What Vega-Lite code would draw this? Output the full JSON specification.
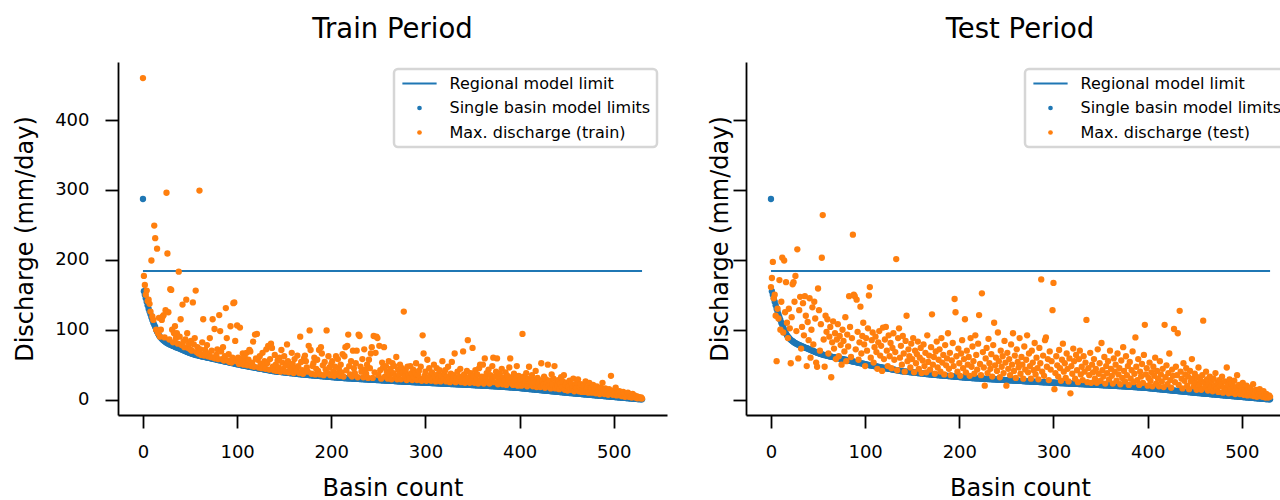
{
"$schema": "https://vega.github.io/schema/vega-lite/v6.json",
"background": "white",
"padding": {"left": 13, "top": 16, "right": 0, "bottom": 0},
"autosize": {"type": "pad"},
"datasets": {"basins": [
{"i":0,"b":287,"r":460,"t":161},{"i":1,"b":155,"r":177,"t":174},{"i":2,"b":150,"r":164,"t":197},{"i":3,"b":145,"r":150,"t":145},{"i":4,"b":140,"r":156,"t":150},{"i":5,"b":135,"r":141,"t":120},{"i":6,"b":130,"r":143,"t":55},{"i":7,"b":126,"r":137,"t":130},{"i":8,"b":122,"r":126,"t":116},{"i":9,"b":118,"r":199,"t":171},
{"i":10,"b":114,"r":119,"t":100},{"i":11,"b":110,"r":114,"t":140},{"i":12,"b":107,"r":249,"t":203},{"i":13,"b":104,"r":231,"t":96},{"i":14,"b":100,"r":100,"t":199},{"i":15,"b":97,"r":216,"t":125},{"i":16,"b":94.5,"r":95,"t":168},{"i":17,"b":92,"r":117,"t":110},{"i":18,"b":90,"r":90,"t":88},{"i":19,"b":88.5,"r":100,"t":130},
{"i":20,"b":87,"r":114,"t":102},{"i":21,"b":85.5,"r":119,"t":52},{"i":22,"b":84.5,"r":121,"t":118},{"i":23,"b":83.5,"r":89,"t":165},{"i":24,"b":82.5,"r":128,"t":168},{"i":25,"b":81.5,"r":296,"t":140},{"i":26,"b":80.7,"r":209,"t":177},{"i":27,"b":80,"r":125,"t":98},{"i":28,"b":79.3,"r":86,"t":215},{"i":29,"b":78.6,"r":158,"t":59},
{"i":30,"b":78,"r":157,"t":128},{"i":31,"b":77.4,"r":100,"t":147},{"i":32,"b":76.8,"r":82,"t":73},{"i":33,"b":76.2,"r":95,"t":104},{"i":34,"b":75.6,"r":105,"t":138},{"i":35,"b":75,"r":88,"t":92},{"i":36,"b":74.5,"r":95,"t":148},{"i":37,"b":74,"r":80,"t":120},{"i":38,"b":73.5,"r":183,"t":48},{"i":39,"b":73,"r":90,"t":111},
{"i":40,"b":72.4,"r":115,"t":85},{"i":41,"b":71.8,"r":78,"t":145},{"i":42,"b":71.2,"r":136,"t":60},{"i":43,"b":70.6,"r":83,"t":100},{"i":44,"b":70,"r":75,"t":132},{"i":45,"b":69.4,"r":86,"t":79},{"i":46,"b":68.8,"r":143,"t":140},{"i":47,"b":68.2,"r":95,"t":116},{"i":48,"b":67.7,"r":74,"t":53},{"i":49,"b":67.2,"r":80,"t":47},
{"i":50,"b":66.7,"r":72,"t":159},{"i":51,"b":66.2,"r":84,"t":128},{"i":52,"b":65.7,"r":70,"t":70},{"i":53,"b":65.2,"r":139,"t":108},{"i":54,"b":64.8,"r":79,"t":203},{"i":55,"b":64.4,"r":88,"t":264},{"i":56,"b":64,"r":156,"t":86},{"i":57,"b":63.6,"r":68,"t":47},{"i":58,"b":63.3,"r":75,"t":120},{"i":59,"b":63,"r":66,"t":97},
{"i":60,"b":62.7,"r":299,"t":115},{"i":61,"b":62.4,"r":72,"t":66},{"i":62,"b":62.1,"r":64,"t":90},{"i":63,"b":61.8,"r":82,"t":104},{"i":64,"b":61.5,"r":115,"t":32},{"i":65,"b":61.2,"r":63,"t":82},{"i":66,"b":60.9,"r":71,"t":112},{"i":67,"b":60.6,"r":67,"t":73},{"i":68,"b":60.3,"r":78,"t":95},{"i":69,"b":60,"r":62,"t":58},
{"i":70,"b":59.7,"r":66,"t":86},{"i":71,"b":59.4,"r":88,"t":108},{"i":72,"b":59.1,"r":61,"t":62},{"i":73,"b":58.8,"r":70,"t":91},{"i":74,"b":58.5,"r":115,"t":78},{"i":75,"b":58.2,"r":60,"t":50},{"i":76,"b":57.9,"r":101,"t":100},{"i":77,"b":57.6,"r":59,"t":84},{"i":78,"b":57.3,"r":64,"t":69},{"i":79,"b":57,"r":72,"t":118},
{"i":80,"b":56.7,"r":58,"t":55},{"i":81,"b":56.4,"r":121,"t":93},{"i":82,"b":56.1,"r":98,"t":76},{"i":83,"b":55.8,"r":69,"t":148},{"i":84,"b":55.5,"r":58,"t":104},{"i":85,"b":55.2,"r":75,"t":61},{"i":86,"b":54.9,"r":56,"t":88},{"i":87,"b":54.6,"r":62,"t":236},{"i":88,"b":54.3,"r":131,"t":150},{"i":89,"b":54,"r":88,"t":148},
{"i":90,"b":53.7,"r":56,"t":72},{"i":91,"b":53.4,"r":65,"t":143},{"i":92,"b":53.1,"r":54,"t":97},{"i":93,"b":52.8,"r":105,"t":57},{"i":94,"b":52.5,"r":53,"t":82},{"i":95,"b":52.2,"r":60,"t":133},{"i":96,"b":51.9,"r":138,"t":66},{"i":97,"b":51.6,"r":139,"t":91},{"i":98,"b":51.3,"r":84,"t":110},{"i":99,"b":51,"r":55,"t":79},
{"i":100,"b":50.7,"r":106,"t":48},{"i":101,"b":50.4,"r":60,"t":88},{"i":102,"b":50.1,"r":51,"t":70},{"i":103,"b":49.8,"r":103,"t":102},{"i":104,"b":49.5,"r":58,"t":149},{"i":105,"b":49.2,"r":52,"t":161},{"i":106,"b":48.9,"r":66,"t":60},{"i":107,"b":48.7,"r":50,"t":85},{"i":108,"b":48.4,"r":62,"t":96},{"i":109,"b":48.2,"r":54,"t":53},
{"i":110,"b":47.9,"r":67,"t":75},{"i":111,"b":47.7,"r":49,"t":90},{"i":112,"b":47.4,"r":57,"t":68},{"i":113,"b":47.2,"r":71,"t":44},{"i":114,"b":46.9,"r":69,"t":82},{"i":115,"b":46.7,"r":48,"t":98},{"i":116,"b":46.4,"r":53,"t":63},{"i":117,"b":46.2,"r":83,"t":77},{"i":118,"b":45.9,"r":47,"t":41},{"i":119,"b":45.7,"r":93,"t":103},
{"i":120,"b":45.4,"r":59,"t":58},{"i":121,"b":45.2,"r":94,"t":86},{"i":122,"b":44.9,"r":57,"t":104},{"i":123,"b":44.7,"r":46,"t":70},{"i":124,"b":44.4,"r":62,"t":48},{"i":125,"b":44.2,"r":51,"t":92},{"i":126,"b":43.9,"r":45,"t":62},{"i":127,"b":43.7,"r":67,"t":81},{"i":128,"b":43.4,"r":48,"t":45},{"i":129,"b":43.2,"r":55,"t":74},
{"i":130,"b":42.9,"r":44,"t":95},{"i":131,"b":42.7,"r":72,"t":57},{"i":132,"b":42.4,"r":52,"t":68},{"i":133,"b":42.2,"r":77,"t":201},{"i":134,"b":41.9,"r":43,"t":42},{"i":135,"b":41.7,"r":58,"t":88},{"i":136,"b":41.4,"r":80,"t":102},{"i":137,"b":41.2,"r":74,"t":60},{"i":138,"b":40.9,"r":47,"t":77},{"i":139,"b":40.7,"r":42,"t":50},
{"i":140,"b":40.5,"r":64,"t":91},{"i":141,"b":40.3,"r":50,"t":66},{"i":142,"b":40.1,"r":41,"t":40},{"i":143,"b":40,"r":56,"t":84},{"i":144,"b":39.9,"r":46,"t":120},{"i":145,"b":39.7,"r":60,"t":55},{"i":146,"b":39.6,"r":40,"t":72},{"i":147,"b":39.4,"r":71,"t":62},{"i":148,"b":39.3,"r":53,"t":46},{"i":149,"b":39.1,"r":44,"t":80},
{"i":150,"b":39,"r":62,"t":58},{"i":151,"b":38.8,"r":40,"t":88},{"i":152,"b":38.7,"r":49,"t":39},{"i":153,"b":38.5,"r":79,"t":70},{"i":154,"b":38.4,"r":55,"t":52},{"i":155,"b":38.2,"r":39,"t":65},{"i":156,"b":38.1,"r":47,"t":83},{"i":157,"b":37.9,"r":43,"t":44},{"i":158,"b":37.8,"r":67,"t":60},{"i":159,"b":37.6,"r":51,"t":74},
{"i":160,"b":37.5,"r":38,"t":38},{"i":161,"b":37.3,"r":58,"t":56},{"i":162,"b":37.2,"r":45,"t":79},{"i":163,"b":37,"r":41,"t":48},{"i":164,"b":36.9,"r":63,"t":67},{"i":165,"b":36.7,"r":48,"t":39},{"i":166,"b":36.6,"r":38,"t":92},{"i":167,"b":36.4,"r":90,"t":54},{"i":168,"b":36.3,"r":54,"t":63},{"i":169,"b":36.1,"r":42,"t":43},
{"i":170,"b":36,"r":37,"t":75},{"i":171,"b":35.8,"r":59,"t":122},{"i":172,"b":35.7,"r":63,"t":50},{"i":173,"b":35.5,"r":55,"t":61},{"i":174,"b":35.4,"r":46,"t":37},{"i":175,"b":35.3,"r":40,"t":69},{"i":176,"b":35.2,"r":77,"t":83},{"i":177,"b":35.1,"r":99,"t":46},{"i":178,"b":35,"r":71,"t":57},{"i":179,"b":34.9,"r":37,"t":72},
{"i":180,"b":34.8,"r":48,"t":40},{"i":181,"b":34.6,"r":52,"t":88},{"i":182,"b":34.5,"r":60,"t":53},{"i":183,"b":34.4,"r":36,"t":64},{"i":184,"b":34.3,"r":44,"t":36},{"i":185,"b":34.2,"r":57,"t":78},{"i":186,"b":34,"r":41,"t":49},{"i":187,"b":33.9,"r":71,"t":59},{"i":188,"b":33.8,"r":36,"t":95},{"i":189,"b":33.7,"r":75,"t":44},
{"i":190,"b":33.6,"r":66,"t":67},{"i":191,"b":33.4,"r":49,"t":35},{"i":192,"b":33.3,"r":35,"t":56},{"i":193,"b":33.2,"r":54,"t":81},{"i":194,"b":33.1,"r":43,"t":48},{"i":195,"b":33,"r":99,"t":144},{"i":196,"b":32.8,"r":38,"t":125},{"i":197,"b":32.7,"r":62,"t":62},{"i":198,"b":32.6,"r":46,"t":40},{"i":199,"b":32.5,"r":35,"t":73},
{"i":200,"b":32.4,"r":51,"t":52},{"i":201,"b":32.2,"r":55,"t":34},{"i":202,"b":32.1,"r":40,"t":66},{"i":203,"b":32,"r":34,"t":85},{"i":204,"b":31.9,"r":47,"t":45},{"i":205,"b":31.8,"r":62,"t":58},{"i":206,"b":31.6,"r":37,"t":115},{"i":207,"b":31.5,"r":58,"t":39},{"i":208,"b":31.4,"r":44,"t":70},{"i":209,"b":31.3,"r":34,"t":50},
{"i":210,"b":31.2,"r":50,"t":61},{"i":211,"b":31.1,"r":39,"t":34},{"i":212,"b":31,"r":65,"t":88},{"i":213,"b":30.9,"r":33,"t":47},{"i":214,"b":30.8,"r":62,"t":76},{"i":215,"b":30.7,"r":75,"t":55},{"i":216,"b":30.7,"r":42,"t":37},{"i":217,"b":30.6,"r":77,"t":92},{"i":218,"b":30.5,"r":93,"t":64},{"i":219,"b":30.4,"r":48,"t":43},
{"i":220,"b":30.3,"r":36,"t":80},{"i":221,"b":30.3,"r":55,"t":121},{"i":222,"b":30.2,"r":33,"t":51},{"i":223,"b":30.1,"r":70,"t":35},{"i":224,"b":30,"r":45,"t":152},{"i":225,"b":29.9,"r":38,"t":68},{"i":226,"b":29.9,"r":52,"t":46},{"i":227,"b":29.8,"r":70,"t":20},{"i":228,"b":29.7,"r":32,"t":59},{"i":229,"b":29.6,"r":93,"t":74},
{"i":230,"b":29.5,"r":91,"t":38},{"i":231,"b":29.5,"r":47,"t":87},{"i":232,"b":29.4,"r":40,"t":52},{"i":233,"b":29.3,"r":58,"t":44},{"i":234,"b":29.2,"r":32,"t":65},{"i":235,"b":29.1,"r":72,"t":33},{"i":236,"b":29.1,"r":43,"t":78},{"i":237,"b":29,"r":37,"t":110},{"i":238,"b":28.9,"r":50,"t":49},{"i":239,"b":28.8,"r":31,"t":60},
{"i":240,"b":28.7,"r":57,"t":41},{"i":241,"b":28.7,"r":45,"t":96},{"i":242,"b":28.6,"r":66,"t":55},{"i":243,"b":28.5,"r":75,"t":32},{"i":244,"b":28.4,"r":31,"t":70},{"i":245,"b":28.3,"r":91,"t":47},{"i":246,"b":28.3,"r":39,"t":62},{"i":247,"b":28.2,"r":67,"t":38},{"i":248,"b":28.1,"r":90,"t":84},{"i":249,"b":28,"r":88,"t":53},
{"i":250,"b":27.9,"r":35,"t":20},{"i":251,"b":27.9,"r":77,"t":67},{"i":252,"b":27.8,"r":42,"t":44},{"i":253,"b":27.7,"r":30,"t":58},{"i":254,"b":27.6,"r":53,"t":35},{"i":255,"b":27.5,"r":46,"t":79},{"i":256,"b":27.5,"r":75,"t":50},{"i":257,"b":27.4,"r":33,"t":95},{"i":258,"b":27.3,"r":48,"t":41},{"i":259,"b":27.2,"r":40,"t":63},
{"i":260,"b":27.1,"r":30,"t":31},{"i":261,"b":27.1,"r":55,"t":72},{"i":262,"b":27,"r":36,"t":54},{"i":263,"b":26.9,"r":44,"t":46},{"i":264,"b":26.8,"r":29,"t":88},{"i":265,"b":26.7,"r":52,"t":37},{"i":266,"b":26.7,"r":38,"t":61},{"i":267,"b":26.6,"r":48,"t":50},{"i":268,"b":26.5,"r":33,"t":30},{"i":269,"b":26.4,"r":61,"t":76},
{"i":270,"b":26.3,"r":29,"t":43},{"i":271,"b":26.3,"r":43,"t":57},{"i":272,"b":26.2,"r":36,"t":92},{"i":273,"b":26.1,"r":50,"t":39},{"i":274,"b":26,"r":29,"t":66},{"i":275,"b":25.9,"r":45,"t":48},{"i":276,"b":25.9,"r":39,"t":30},{"i":277,"b":25.8,"r":126,"t":70},{"i":278,"b":25.7,"r":33,"t":53},{"i":279,"b":25.6,"r":41,"t":42},
{"i":280,"b":25.5,"r":28,"t":81},{"i":281,"b":25.5,"r":47,"t":36},{"i":282,"b":25.4,"r":35,"t":60},{"i":283,"b":25.3,"r":30,"t":45},{"i":284,"b":25.3,"r":48,"t":29},{"i":285,"b":25.2,"r":38,"t":74},{"i":286,"b":25.1,"r":28,"t":52},{"i":287,"b":25.1,"r":43,"t":172},{"i":288,"b":25,"r":32,"t":40},{"i":289,"b":24.9,"r":38,"t":63},
{"i":290,"b":24.9,"r":52,"t":34},{"i":291,"b":24.8,"r":28,"t":85},{"i":292,"b":24.7,"r":36,"t":89},{"i":293,"b":24.7,"r":41,"t":47},{"i":294,"b":24.6,"r":30,"t":58},{"i":295,"b":24.5,"r":47,"t":28},{"i":296,"b":24.5,"r":27,"t":69},{"i":297,"b":24.4,"r":92,"t":43},{"i":298,"b":24.3,"r":66,"t":55},{"i":299,"b":24.3,"r":34,"t":128},
{"i":300,"b":24.2,"r":40,"t":167},{"i":301,"b":24.1,"r":27,"t":15},{"i":302,"b":24.1,"r":57,"t":38},{"i":303,"b":24,"r":31,"t":62},{"i":304,"b":23.9,"r":45,"t":49},{"i":305,"b":23.9,"r":35,"t":33},{"i":306,"b":23.8,"r":27,"t":71},{"i":307,"b":23.7,"r":39,"t":45},{"i":308,"b":23.7,"r":29,"t":27},{"i":309,"b":23.6,"r":50,"t":57},
{"i":310,"b":23.5,"r":33,"t":80},{"i":311,"b":23.5,"r":26,"t":40},{"i":312,"b":23.4,"r":45,"t":52},{"i":313,"b":23.3,"r":36,"t":31},{"i":314,"b":23.3,"r":30,"t":66},{"i":315,"b":23.2,"r":42,"t":44},{"i":316,"b":23.1,"r":26,"t":26},{"i":317,"b":23.1,"r":34,"t":59},{"i":318,"b":23,"r":55,"t":9},{"i":319,"b":22.9,"r":29,"t":48},
{"i":320,"b":22.9,"r":38,"t":37},{"i":321,"b":22.8,"r":42,"t":73},{"i":322,"b":22.7,"r":26,"t":55},{"i":323,"b":22.7,"r":33,"t":30},{"i":324,"b":22.6,"r":47,"t":64},{"i":325,"b":22.5,"r":30,"t":42},{"i":326,"b":22.5,"r":25,"t":25},{"i":327,"b":22.4,"r":37,"t":58},{"i":328,"b":22.3,"r":54,"t":70},{"i":329,"b":22.3,"r":28,"t":36},
{"i":330,"b":22.2,"r":35,"t":47},{"i":331,"b":22.1,"r":66,"t":28},{"i":332,"b":22.1,"r":25,"t":62},{"i":333,"b":22,"r":31,"t":40},{"i":334,"b":21.9,"r":40,"t":53},{"i":335,"b":21.9,"r":27,"t":114},{"i":336,"b":21.8,"r":33,"t":25},{"i":337,"b":21.7,"r":44,"t":45},{"i":338,"b":21.7,"r":25,"t":35},{"i":339,"b":21.6,"r":30,"t":67},
{"i":340,"b":21.5,"r":69,"t":24},{"i":341,"b":21.5,"r":36,"t":50},{"i":342,"b":21.4,"r":24,"t":39},{"i":343,"b":21.3,"r":29,"t":58},{"i":344,"b":21.3,"r":41,"t":30},{"i":345,"b":21.2,"r":85,"t":44},{"i":346,"b":21.1,"r":32,"t":24},{"i":347,"b":21.1,"r":24,"t":72},{"i":348,"b":21,"r":38,"t":37},{"i":349,"b":20.9,"r":27,"t":52},
{"i":350,"b":20.9,"r":74,"t":27},{"i":351,"b":20.8,"r":34,"t":81},{"i":352,"b":20.7,"r":24,"t":42},{"i":353,"b":20.6,"r":42,"t":33},{"i":354,"b":20.6,"r":29,"t":61},{"i":355,"b":20.5,"r":36,"t":23},{"i":356,"b":20.4,"r":23,"t":48},{"i":357,"b":20.3,"r":45,"t":38},{"i":358,"b":20.3,"r":50,"t":55},{"i":359,"b":20.2,"r":28,"t":29},
{"i":360,"b":20.1,"r":33,"t":70},{"i":361,"b":20,"r":50,"t":44},{"i":362,"b":20,"r":23,"t":34},{"i":363,"b":19.9,"r":59,"t":23},{"i":364,"b":19.8,"r":31,"t":59},{"i":365,"b":19.7,"r":38,"t":40},{"i":366,"b":19.7,"r":26,"t":50},{"i":367,"b":19.6,"r":43,"t":27},{"i":368,"b":19.5,"r":23,"t":66},{"i":369,"b":19.4,"r":35,"t":36},
{"i":370,"b":19.4,"r":29,"t":45},{"i":371,"b":19.3,"r":48,"t":22},{"i":372,"b":19.2,"r":60,"t":56},{"i":373,"b":19.1,"r":25,"t":31},{"i":374,"b":19.1,"r":33,"t":75},{"i":375,"b":19,"r":40,"t":41},{"i":376,"b":18.9,"r":59,"t":26},{"i":377,"b":18.8,"r":22,"t":62},{"i":378,"b":18.8,"r":30,"t":35},{"i":379,"b":18.7,"r":37,"t":48},
{"i":380,"b":18.6,"r":26,"t":21},{"i":381,"b":18.5,"r":44,"t":54},{"i":382,"b":18.4,"r":22,"t":30},{"i":383,"b":18.3,"r":31,"t":42},{"i":384,"b":18.2,"r":27,"t":69},{"i":385,"b":18.1,"r":39,"t":25},{"i":386,"b":18,"r":21,"t":37},{"i":387,"b":17.9,"r":34,"t":89},{"i":388,"b":17.8,"r":28,"t":47},{"i":389,"b":17.7,"r":46,"t":28},
{"i":390,"b":17.6,"r":59,"t":58},{"i":391,"b":17.5,"r":24,"t":21},{"i":392,"b":17.4,"r":32,"t":40},{"i":393,"b":17.3,"r":21,"t":33},{"i":394,"b":17.2,"r":37,"t":51},{"i":395,"b":17.1,"r":27,"t":24},{"i":396,"b":17,"r":30,"t":64},{"i":397,"b":16.9,"r":48,"t":107},{"i":398,"b":16.8,"r":20,"t":36},{"i":399,"b":16.7,"r":34,"t":45},
{"i":400,"b":16.6,"r":25,"t":20},{"i":401,"b":16.5,"r":29,"t":31},{"i":402,"b":16.3,"r":20,"t":53},{"i":403,"b":16.2,"r":94,"t":27},{"i":404,"b":16,"r":33,"t":39},{"i":405,"b":15.9,"r":23,"t":19},{"i":406,"b":15.8,"r":27,"t":47},{"i":407,"b":15.6,"r":38,"t":34},{"i":408,"b":15.5,"r":19,"t":60},{"i":409,"b":15.4,"r":30,"t":23},
{"i":410,"b":15.2,"r":47,"t":41},{"i":411,"b":15.1,"r":22,"t":30},{"i":412,"b":15,"r":26,"t":19},{"i":413,"b":14.8,"r":35,"t":55},{"i":414,"b":14.7,"r":19,"t":36},{"i":415,"b":14.6,"r":29,"t":26},{"i":416,"b":14.4,"r":24,"t":44},{"i":417,"b":14.3,"r":41,"t":18},{"i":418,"b":14.2,"r":18,"t":107},{"i":419,"b":14,"r":31,"t":32},
{"i":420,"b":13.9,"r":23,"t":49},{"i":421,"b":13.8,"r":28,"t":22},{"i":422,"b":13.6,"r":18,"t":38},{"i":423,"b":13.5,"r":52,"t":66},{"i":424,"b":13.4,"r":26,"t":28},{"i":425,"b":13.2,"r":21,"t":17},{"i":426,"b":13.1,"r":33,"t":43},{"i":427,"b":13,"r":17,"t":34},{"i":428,"b":12.8,"r":29,"t":101},{"i":429,"b":12.7,"r":24,"t":25},
{"i":430,"b":12.6,"r":50,"t":47},{"i":431,"b":12.4,"r":19,"t":35},{"i":432,"b":12.3,"r":27,"t":95},{"i":433,"b":12.2,"r":16,"t":21},{"i":434,"b":12,"r":36,"t":127},{"i":435,"b":11.9,"r":22,"t":40},{"i":436,"b":11.8,"r":30,"t":30},{"i":437,"b":11.6,"r":48,"t":16},{"i":438,"b":11.5,"r":16,"t":52},{"i":439,"b":11.4,"r":25,"t":27},
{"i":440,"b":11.2,"r":20,"t":36},{"i":441,"b":11.1,"r":28,"t":45},{"i":442,"b":11,"r":15,"t":20},{"i":443,"b":10.8,"r":23,"t":33},{"i":444,"b":10.7,"r":32,"t":15},{"i":445,"b":10.6,"r":18,"t":41},{"i":446,"b":10.4,"r":26,"t":26},{"i":447,"b":10.3,"r":35,"t":58},{"i":448,"b":10.2,"r":14,"t":30},{"i":449,"b":10,"r":21,"t":19},
{"i":450,"b":9.9,"r":24,"t":37},{"i":451,"b":9.8,"r":13,"t":24},{"i":452,"b":9.6,"r":19,"t":14},{"i":453,"b":9.5,"r":27,"t":32},{"i":454,"b":9.4,"r":14,"t":46},{"i":455,"b":9.3,"r":22,"t":21},{"i":456,"b":9.2,"r":17,"t":28},{"i":457,"b":9,"r":30,"t":14},{"i":458,"b":8.9,"r":12,"t":35},{"i":459,"b":8.8,"r":20,"t":113},
{"i":460,"b":8.7,"r":16,"t":25},{"i":461,"b":8.6,"r":24,"t":18},{"i":462,"b":8.4,"r":29,"t":40},{"i":463,"b":8.3,"r":12,"t":29},{"i":464,"b":8.2,"r":18,"t":13},{"i":465,"b":8.1,"r":22,"t":22},{"i":466,"b":8,"r":11,"t":33},{"i":467,"b":7.8,"r":15,"t":17},{"i":468,"b":7.7,"r":20,"t":27},{"i":469,"b":7.6,"r":11,"t":12},
{"i":470,"b":7.5,"r":26,"t":30},{"i":471,"b":7.4,"r":14,"t":20},{"i":472,"b":7.2,"r":18,"t":38},{"i":473,"b":7.1,"r":10,"t":15},{"i":474,"b":7,"r":24,"t":24},{"i":475,"b":6.9,"r":13,"t":11},{"i":476,"b":6.8,"r":16,"t":28},{"i":477,"b":6.6,"r":10,"t":19},{"i":478,"b":6.5,"r":21,"t":22},{"i":479,"b":6.4,"r":12,"t":33},
{"i":480,"b":6.3,"r":15,"t":10},{"i":481,"b":6.2,"r":9,"t":17},{"i":482,"b":6,"r":19,"t":26},{"i":483,"b":5.9,"r":11,"t":14},{"i":484,"b":5.8,"r":14,"t":46},{"i":485,"b":5.7,"r":8,"t":21},{"i":486,"b":5.6,"r":17,"t":9},{"i":487,"b":5.4,"r":10,"t":29},{"i":488,"b":5.3,"r":24,"t":15},{"i":489,"b":5.2,"r":13,"t":23},
{"i":490,"b":5.1,"r":8,"t":10},{"i":491,"b":5,"r":16,"t":19},{"i":492,"b":4.8,"r":10,"t":27},{"i":493,"b":4.7,"r":12,"t":8},{"i":494,"b":4.6,"r":7,"t":16},{"i":495,"b":4.5,"r":15,"t":35},{"i":496,"b":4.4,"r":9,"t":12},{"i":497,"b":4.2,"r":34,"t":21},{"i":498,"b":4.1,"r":11,"t":8},{"i":499,"b":4,"r":7,"t":18},
{"i":500,"b":3.9,"r":13,"t":13},{"i":501,"b":3.8,"r":9,"t":24},{"i":502,"b":3.6,"r":17,"t":7},{"i":503,"b":3.5,"r":6,"t":15},{"i":504,"b":3.4,"r":10,"t":11},{"i":505,"b":3.3,"r":8,"t":20},{"i":506,"b":3.2,"r":12,"t":6},{"i":507,"b":3,"r":6,"t":14},{"i":508,"b":2.9,"r":9,"t":10},{"i":509,"b":2.8,"r":5,"t":17},
{"i":510,"b":2.7,"r":11,"t":6},{"i":511,"b":2.6,"r":7,"t":12},{"i":512,"b":2.4,"r":4,"t":22},{"i":513,"b":2.3,"r":8,"t":5},{"i":514,"b":2.2,"r":6,"t":9},{"i":515,"b":2.1,"r":10,"t":14},{"i":516,"b":2,"r":4,"t":4},{"i":517,"b":1.8,"r":7,"t":11},{"i":518,"b":1.7,"r":5,"t":7},{"i":519,"b":1.6,"r":3,"t":15},
{"i":520,"b":1.5,"r":8,"t":5},{"i":521,"b":1.4,"r":4,"t":9},{"i":522,"b":1.2,"r":6,"t":4},{"i":523,"b":1.1,"r":3,"t":12},{"i":524,"b":1,"r":5,"t":6},{"i":525,"b":0.9,"r":2,"t":3},{"i":526,"b":0.8,"r":4,"t":8},{"i":527,"b":0.7,"r":3,"t":5},{"i":528,"b":0.6,"r":2,"t":3},{"i":529,"b":0.5,"r":3,"t":6},{"i":530,"b":0.4,"r":1.5,"t":4}
]},
"config": {
  "font": "DejaVu Sans",
  "view": {"stroke": null},
  "axis": {
    "grid": false, "domainColor": "#000000", "domainWidth": 1.8, "tickColor": "#000000", "tickWidth": 1.8, "tickSize": 13,
    "labelFont": "DejaVu Sans", "labelFontSize": 18, "labelColor": "#000000", "labelPadding": 16,
    "titleFont": "DejaVu Sans", "titleFontSize": 24, "titleFontWeight": "normal", "titleColor": "#000000"
  },
  "axisX": {"labelPadding": 15},
  "title": {"font": "DejaVu Sans", "fontSize": 27.5, "fontWeight": "normal", "color": "#000000"},
  "legend": {
    "labelFont": "DejaVu Sans", "labelFontSize": 16, "labelColor": "#000000", "labelLimit": 400,
    "strokeColor": "#d6d6d6", "strokeWidth": 2.5, "cornerRadius": 4, "fillColor": "#ffffff",
    "padding": 6.5, "rowPadding": 8.5, "symbolSize": 22, "symbolOffset": 11, "labelOffset": 22, "symbolStrokeWidth": 0
  }
},
"spacing": 79,
"bounds": "flush",
"resolve": {"scale": {"color": "independent", "shape": "independent"}, "legend": {"color": "independent", "shape": "independent"}},
"hconcat": [
{
  "width": 549, "height": 353,
  "title": {"text": "Train Period", "baseline": "alphabetic", "offset": -3.5},
  "layer": [
    {
      "data": {"values": [{}]},
      "mark": {"type": "rule", "color": "#1f77b4", "strokeWidth": 1.8},
      "encoding": {
        "x": {"datum": 0, "type": "quantitative", "scale": {"domain": [-26.5, 556.5], "nice": false, "zero": false}, "axis": {"values": [0,100,200,300,400,500], "title": "Basin count", "titlePadding": 15}},
        "x2": {"datum": 530},
        "y": {"datum": 184, "type": "quantitative", "scale": {"domain": [-22, 483], "nice": false, "zero": false}, "axis": {"values": [0,100,200,300,400], "title": "Discharge (mm/day)", "titlePadding": 17}}
      }
    },
    {
      "data": {"name": "basins"},
      "mark": {"type": "point", "filled": true, "size": 40, "opacity": 1},
      "encoding": {
        "x": {"field": "i", "type": "quantitative", "scale": {"domain": [-26.5, 556.5], "nice": false, "zero": false}, "axis": {"values": [0,100,200,300,400,500], "title": "Basin count", "titlePadding": 15}},
        "y": {"field": "b", "type": "quantitative", "scale": {"domain": [-22, 483], "nice": false, "zero": false}, "axis": {"values": [0,100,200,300,400], "title": "Discharge (mm/day)", "titlePadding": 17}},
        "color": {"datum": "b", "type": "nominal",
          "scale": {"domain": ["reg", "b", "r"], "range": ["#1f77b4", "#1f77b4", "#ff7f0e"]},
          "legend": {"title": null, "orient": "none", "legendX": 276, "legendY": 7,
            "labelExpr": "datum.value == 'reg' ? 'Regional model limit' : datum.value == 'b' ? 'Single basin model limits' : 'Max. discharge (train)'"}},
        "shape": {"datum": "b", "type": "nominal",
          "scale": {"domain": ["reg", "b", "r"], "range": ["M-7.3,-0.4H7.3V0.4H-7.3Z", "circle", "circle"]},
          "legend": {"title": null, "orient": "none", "legendX": 276, "legendY": 7,
            "labelExpr": "datum.value == 'reg' ? 'Regional model limit' : datum.value == 'b' ? 'Single basin model limits' : 'Max. discharge (train)'"}}
      }
    },
    {
      "data": {"name": "basins"},
      "mark": {"type": "point", "filled": true, "size": 40, "opacity": 1},
      "encoding": {
        "x": {"field": "i", "type": "quantitative", "scale": {"domain": [-26.5, 556.5], "nice": false, "zero": false}, "axis": {"values": [0,100,200,300,400,500], "title": "Basin count", "titlePadding": 15}},
        "y": {"field": "r", "type": "quantitative", "scale": {"domain": [-22, 483], "nice": false, "zero": false}, "axis": {"values": [0,100,200,300,400], "title": "Discharge (mm/day)", "titlePadding": 17}},
        "color": {"datum": "r", "type": "nominal",
          "scale": {"domain": ["reg", "b", "r"], "range": ["#1f77b4", "#1f77b4", "#ff7f0e"]},
          "legend": {"title": null, "orient": "none", "legendX": 276, "legendY": 7,
            "labelExpr": "datum.value == 'reg' ? 'Regional model limit' : datum.value == 'b' ? 'Single basin model limits' : 'Max. discharge (train)'"}},
        "shape": {"datum": "r", "type": "nominal",
          "scale": {"domain": ["reg", "b", "r"], "range": ["M-7.3,-0.4H7.3V0.4H-7.3Z", "circle", "circle"]},
          "legend": {"title": null, "orient": "none", "legendX": 276, "legendY": 7,
            "labelExpr": "datum.value == 'reg' ? 'Regional model limit' : datum.value == 'b' ? 'Single basin model limits' : 'Max. discharge (train)'"}}
      }
    }
  ]
},
{
  "width": 535, "height": 353,
  "title": {"text": "Test Period", "baseline": "alphabetic", "offset": -3.5, "dx": 6.5},
  "layer": [
    {
      "data": {"values": [{}]},
      "mark": {"type": "rule", "color": "#1f77b4", "strokeWidth": 1.8},
      "encoding": {
        "x": {"datum": 0, "type": "quantitative", "scale": {"domain": [-26.5, 541.6], "nice": false, "zero": false}, "axis": {"values": [0,100,200,300,400,500], "title": "Basin count", "titlePadding": 15, "titleX": 274}},
        "x2": {"datum": 530},
        "y": {"datum": 184, "type": "quantitative", "scale": {"domain": [-22, 483], "nice": false, "zero": false}, "axis": {"values": [0,100,200,300,400], "labels": false, "title": "Discharge (mm/day)", "titlePadding": 0}}
      }
    },
    {
      "data": {"name": "basins"},
      "mark": {"type": "point", "filled": true, "size": 40, "opacity": 1},
      "encoding": {
        "x": {"field": "i", "type": "quantitative", "scale": {"domain": [-26.5, 541.6], "nice": false, "zero": false}, "axis": {"values": [0,100,200,300,400,500], "title": "Basin count", "titlePadding": 15, "titleX": 274}},
        "y": {"field": "b", "type": "quantitative", "scale": {"domain": [-22, 483], "nice": false, "zero": false}, "axis": {"values": [0,100,200,300,400], "labels": false, "title": "Discharge (mm/day)", "titlePadding": 0}},
        "color": {"datum": "b", "type": "nominal",
          "scale": {"domain": ["reg", "b", "t"], "range": ["#1f77b4", "#1f77b4", "#ff7f0e"]},
          "legend": {"title": null, "orient": "none", "legendX": 279, "legendY": 7,
            "labelExpr": "datum.value == 'reg' ? 'Regional model limit' : datum.value == 'b' ? 'Single basin model limits' : 'Max. discharge (test)'"}},
        "shape": {"datum": "b", "type": "nominal",
          "scale": {"domain": ["reg", "b", "t"], "range": ["M-7.3,-0.4H7.3V0.4H-7.3Z", "circle", "circle"]},
          "legend": {"title": null, "orient": "none", "legendX": 279, "legendY": 7,
            "labelExpr": "datum.value == 'reg' ? 'Regional model limit' : datum.value == 'b' ? 'Single basin model limits' : 'Max. discharge (test)'"}}
      }
    },
    {
      "data": {"name": "basins"},
      "mark": {"type": "point", "filled": true, "size": 40, "opacity": 1},
      "encoding": {
        "x": {"field": "i", "type": "quantitative", "scale": {"domain": [-26.5, 541.6], "nice": false, "zero": false}, "axis": {"values": [0,100,200,300,400,500], "title": "Basin count", "titlePadding": 15, "titleX": 274}},
        "y": {"field": "t", "type": "quantitative", "scale": {"domain": [-22, 483], "nice": false, "zero": false}, "axis": {"values": [0,100,200,300,400], "labels": false, "title": "Discharge (mm/day)", "titlePadding": 0}},
        "color": {"datum": "t", "type": "nominal",
          "scale": {"domain": ["reg", "b", "t"], "range": ["#1f77b4", "#1f77b4", "#ff7f0e"]},
          "legend": {"title": null, "orient": "none", "legendX": 279, "legendY": 7,
            "labelExpr": "datum.value == 'reg' ? 'Regional model limit' : datum.value == 'b' ? 'Single basin model limits' : 'Max. discharge (test)'"}},
        "shape": {"datum": "t", "type": "nominal",
          "scale": {"domain": ["reg", "b", "t"], "range": ["M-7.3,-0.4H7.3V0.4H-7.3Z", "circle", "circle"]},
          "legend": {"title": null, "orient": "none", "legendX": 279, "legendY": 7,
            "labelExpr": "datum.value == 'reg' ? 'Regional model limit' : datum.value == 'b' ? 'Single basin model limits' : 'Max. discharge (test)'"}}
      }
    }
  ]
}
]
}
